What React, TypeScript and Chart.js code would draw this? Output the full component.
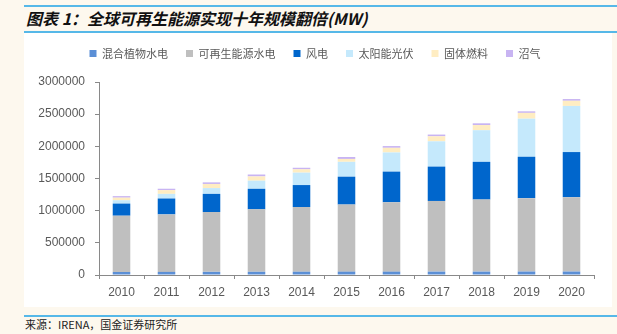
import React, { useEffect, useRef } from "react";
import { Chart, registerables } from "chart.js";

Chart.register(...registerables);

const years = ["2010", "2011", "2012", "2013", "2014", "2015", "2016", "2017", "2018", "2019", "2020"];
const mixedHydro = [47000, 48000, 49000, 50000, 51000, 52000, 52000, 53000, 53000, 54000, 54000];
const renewableHydro = [875000, 894000, 930000, 971000, 1006000, 1043000, 1079000, 1098000, 1120000, 1140000, 1155000];
const wind = [188000, 247000, 282000, 319000, 341000, 433000, 476000, 534000, 586000, 644000, 702000];
const solar = [52000, 72000, 90000, 126000, 193000, 231000, 298000, 393000, 492000, 592000, 717000];
const solidBiofuel = [40000, 58000, 64000, 66000, 52000, 45000, 72000, 78000, 80000, 90000, 80000];
const biogas = [24000, 22000, 25000, 30000, 24000, 30000, 27000, 27000, 27000, 24000, 27000];

const seriesNames = ["混合植物水电", "可再生能源水电", "风电", "太阳能光伏", "固体燃料", "沼气"];
const seriesColors = ["#5B8FD6", "#BFBFBF", "#0066CC", "#C5E9FC", "#FFEDC2", "#C8B4F2"];

const yMax = 3000000;
const yStep = 500000;

const titleText = "图表 1：全球可再生能源实现十年规模翻倍(MW)";
const sourceText = "来源：IRENA，国金证券研究所";

const legendNudge = {
  id: "legendNudge",
  afterLayout(chart: any) {
    const l = chart.legend;
    if (l) {
      l.top -= 13;
      l.bottom -= 13;
      l.left += 6;
      l.right += 6;
    }
  },
};

export default function App() {
  const ref = useRef<HTMLCanvasElement | null>(null);

  useEffect(() => {
    if (!ref.current) return;
    const values = [mixedHydro, renewableHydro, wind, solar, solidBiofuel, biogas];
    const chart = new Chart(ref.current, {
      type: "bar",
      data: {
        labels: years,
        datasets: seriesNames.map((name, i) => ({
          label: name,
          data: values[i],
          backgroundColor: seriesColors[i],
          borderWidth: 0,
          barPercentage: 0.39,
          categoryPercentage: 1,
        })),
      },
      options: {
        responsive: false,
        animation: false,
        layout: { padding: { top: 10, right: 18, bottom: 0, left: 0 } },
        plugins: {
          legend: {
            position: "top",
            labels: {
              font: { family: "'Noto Sans CJK SC'", size: 11 },
              color: "#595959",
              boxWidth: 7,
              boxHeight: 7,
              padding: 18,
            },
          },
          tooltip: { enabled: false },
        },
        scales: {
          x: {
            stacked: true,
            offset: true,
            grid: {
              offset: true,
              drawOnChartArea: false,
              drawTicks: true,
              tickLength: 4,
              color: "#898989",
            },
            border: { display: true, color: "#898989", width: 1 },
            ticks: {
              font: { family: "'Liberation Sans', Arial", size: 12 },
              color: "#595959",
              padding: 6,
            },
            afterFit(scale: any) {
              scale.height = 32;
            },
          },
          y: {
            stacked: true,
            min: 0,
            max: yMax,
            grid: {
              drawOnChartArea: false,
              drawTicks: true,
              tickLength: 4,
              color: "#898989",
            },
            border: { display: true, color: "#898989", width: 1 },
            ticks: {
              stepSize: yStep,
              font: { family: "'Liberation Sans', Arial", size: 12 },
              color: "#595959",
              padding: 10,
              callback: (v: any) => String(v),
            },
            afterFit(scale: any) {
              scale.width = 75;
            },
          },
        },
      },
      plugins: [legendNudge],
    });
    return () => chart.destroy();
  }, []);

  return (
    <div
      style={{
        position: "fixed",
        left: 0,
        top: 0,
        width: 617,
        height: 334,
        background: "#FDF8EE",
        overflow: "hidden",
      }}
    >
      <div style={{ position: "absolute", left: 24, top: 5, width: 593, height: 2, background: "#56B8E8" }} />
      <div
        style={{
          position: "absolute",
          left: 26,
          top: 7,
          height: 22,
          lineHeight: "22px",
          fontFamily: "'Noto Sans CJK SC', sans-serif",
          fontSize: 16,
          fontWeight: "bold",
          fontStyle: "italic",
          color: "#111",
          whiteSpace: "nowrap",
        }}
      >
        {titleText}
      </div>
      <div style={{ position: "absolute", left: 24, top: 31, width: 593, height: 2, background: "#56B8E8" }} />
      <div style={{ position: "absolute", left: 24, top: 33, width: 588, height: 274, background: "#FFFFFF" }}>
        <canvas ref={ref} width={588} height={274} style={{ display: "block" }} />
      </div>
      <div style={{ position: "absolute", left: 24, top: 315, width: 593, height: 2, background: "#56B8E8" }} />
      <div
        style={{
          position: "absolute",
          left: 25,
          top: 316,
          height: 16,
          lineHeight: "16px",
          fontFamily: "'Noto Sans CJK SC', sans-serif",
          fontSize: 11,
          color: "#222",
          whiteSpace: "nowrap",
        }}
      >
        {sourceText}
      </div>
    </div>
  );
}
